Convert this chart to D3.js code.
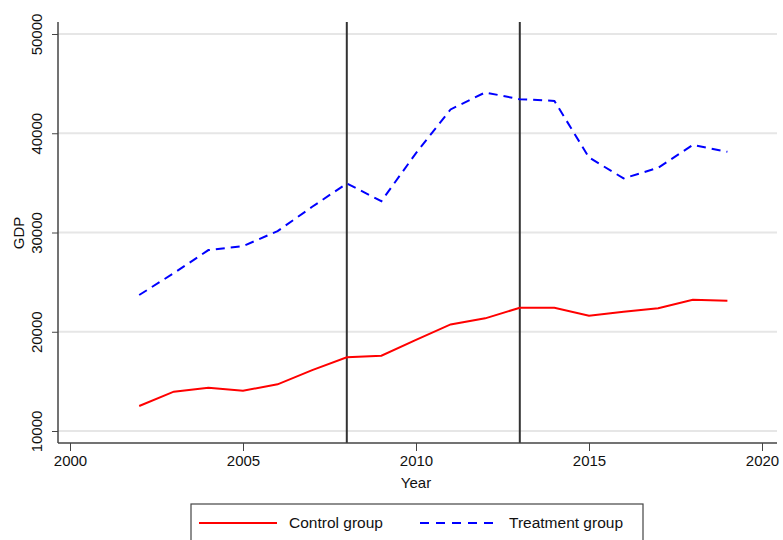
<!DOCTYPE html>
<html><head><meta charset="utf-8">
<script src="https://cdn.jsdelivr.net/npm/d3@7"></script>
<style>
body{margin:0;background:#fff;}
svg{display:block;}
text{font-family:"Liberation Sans Narrow","Arial Narrow","Liberation Sans",Arial,sans-serif;fill:#111;}
</style></head>
<body><svg id="c" width="783" height="540"></svg>
<script>
const years = [2002,2003,2004,2005,2006,2007,2008,2009,2010,2011,2012,2013,2014,2015,2016,2017,2018,2019];
const controlGDP = [12520,13960,14360,14060,14700,16140,17420,17580,19190,20740,21350,22420,22420,21610,22010,22360,23220,23120];
const treatmentGDP = [23700,25900,28230,28630,30140,32590,34940,33160,38000,42400,44110,43430,43260,37560,35450,36520,38830,38130];
const xTicks = [2000,2005,2010,2015,2020];
const yTicks = [10000,20000,30000,40000,50000];
const eventYears = [2008,2013];
const seriesNames = ["Control group","Treatment group"];

const svg = d3.select("#c");
const x = d3.scaleLinear().domain([2000,2020]).range([70,762]);
const y = d3.scaleLinear().domain([10000,50000]).range([431,34]);
const pL = 58, pR = 777, pT = 22, pB = 443;

// gridlines
svg.append("g").selectAll("line").data(yTicks).join("line")
  .attr("x1",pL).attr("x2",pR).attr("y1",d=>y(d)).attr("y2",d=>y(d))
  .attr("stroke","#e6e6e6").attr("stroke-width",2);

// event lines
svg.append("g").selectAll("line").data(eventYears).join("line")
  .attr("x1",d=>x(d)).attr("x2",d=>x(d)).attr("y1",pT).attr("y2",pB)
  .attr("stroke","#333").attr("stroke-width",2);

// axes
const yAxis = svg.append("g").attr("transform",`translate(${pL},0)`)
  .call(d3.axisLeft(y).tickValues(yTicks).tickSize(6).tickFormat(d3.format("d")));
yAxis.select(".domain").attr("d",`M0,${pT}V${pB}`).attr("stroke","#444").attr("stroke-width",1.5);
yAxis.selectAll(".tick line").attr("stroke","#444");
yAxis.selectAll(".tick text").attr("font-size",15).attr("fill","#111").attr("transform","rotate(-90)")
  .attr("x",0).attr("y",-16).attr("dy","0").attr("text-anchor","middle");

const xAxis = svg.append("g").attr("transform",`translate(0,${pB})`)
  .call(d3.axisBottom(x).tickValues(xTicks).tickSize(8).tickFormat(d3.format("d")));
xAxis.select(".domain").attr("d",`M${pL},0H${pR}`).attr("stroke","#444").attr("stroke-width",1.5);
xAxis.selectAll(".tick line").attr("stroke","#444");
xAxis.selectAll(".tick text").attr("font-size",15).attr("fill","#111").attr("y",12);

svg.append("text").attr("x",416).attr("y",488).attr("text-anchor","middle").attr("font-size",15).text("Year");
svg.append("text").attr("transform","translate(24,233) rotate(-90)").attr("text-anchor","middle").attr("font-size",15).text("GDP");

// lines
const line = d3.line().x((d,i)=>x(years[i])).y(d=>y(d));
svg.append("path").datum(controlGDP).attr("d",line).attr("fill","none").attr("stroke","#ff0000").attr("stroke-width",2);
svg.append("path").datum(treatmentGDP).attr("d",line).attr("fill","none").attr("stroke","#0000ff").attr("stroke-width",2).attr("stroke-dasharray","9,6");

// legend
svg.append("rect").attr("x",191).attr("y",504).attr("width",452).attr("height",44).attr("fill","#fff").attr("stroke","#444").attr("stroke-width",1.2);
svg.append("line").attr("x1",199).attr("x2",277).attr("y1",523).attr("y2",523).attr("stroke","#ff0000").attr("stroke-width",2);
svg.append("line").attr("x1",420).attr("x2",497).attr("y1",523).attr("y2",523).attr("stroke","#0000ff").attr("stroke-width",2).attr("stroke-dasharray","9,7");
svg.append("text").attr("x",289).attr("y",528).attr("font-size",15.5).style("font-family","'Liberation Sans',Arial,sans-serif").text(seriesNames[0]);
svg.append("text").attr("x",509).attr("y",528).attr("font-size",15.5).style("font-family","'Liberation Sans',Arial,sans-serif").text(seriesNames[1]);
</script></body></html>
